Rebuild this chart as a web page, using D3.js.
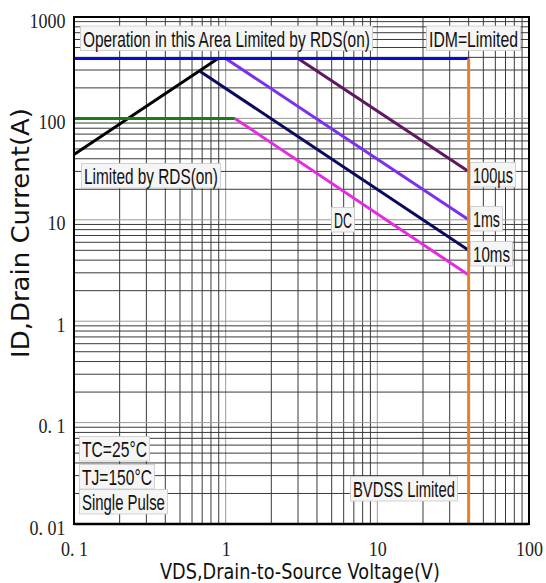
<!DOCTYPE html>
<html><head><meta charset="utf-8">
<script src="https://cdn.jsdelivr.net/npm/d3@7"></script>
<style>html,body{margin:0;padding:0;background:#fff;} svg{display:block;}</style>
</head><body>
<script>
// ---------- data ----------
const xTickValues = [0.1, 1, 10, 100];
const xTickLabels = ["0. 1", "1", "10", "100"];
const yTickValues = [0.01, 0.1, 1, 10, 100, 1000];
const yTickLabels = ["0. 01", "0. 1", "1", "10", "100", "1000"];

// [VDS (V), ID (A)]
const idmLimit   = [[0.1, 390], [40, 390]];
const bvdssLimit = [[40, 390], [40, 0.01]];
const rdsOnLimit = [[0.1, 44], [0.89, 390]];
const dcFlat     = [[0.1, 100], [1.15, 100]];
const dcSlope    = [[1.15, 100], [40, 2.85]];
const pulse10ms  = [[0.68, 290], [40, 5]];
const pulse1ms   = [[1.0, 390], [40, 10]];
const pulse100us = [[3.0, 390], [40, 30]];

const annotationTexts = ["Operation in this Area Limited by RDS(on)", "IDM=Limited",
  "Limited by RDS(on)", "100µs", "1ms", "10ms", "DC", "TC=25°C", "TJ=150°C",
  "Single Pulse", "BVDSS Limited"];

// ---------- layout ----------
const W = 546, H = 583;
const M = {left: 74, right: 529, top: 17, bottom: 524};

const seriesStyles = [
  {d: rdsOnLimit, color: "#000000"},
  {d: dcFlat,     color: "#1c7a1c"},
  {d: dcSlope,    color: "#e22ee2"},
  {d: pulse10ms,  color: "#0b0b5e"},
  {d: pulse1ms,   color: "#7b30ee"},
  {d: pulse100us, color: "#5e1860"},
  {d: idmLimit,   color: "#0a0ad8"},
  {d: bvdssLimit, color: "#e0822a"}
];

// left x, baseline y, target width (pixels)
const annotationLayout = [
  [83, 46.5, 287], [429, 46.5, 89], [84, 184, 134], [473, 183, 40],
  [473, 227, 27], [473, 262, 37], [334, 228, 18], [82, 457, 65],
  [82, 485, 70], [82, 510, 83], [353, 497, 102]
];

const svg = d3.select("body").append("svg").attr("width", W).attr("height", H);

const x = d3.scaleLog().domain([0.1, 100]).range([M.left, M.right]);
const y = d3.scaleLog().domain([0.01, 1000]).range([M.bottom, M.top]);

// squeeze a text horizontally to a target width (keeps real bbox correct)
function squeezeTo(sel, tx, ty, target) {
  const w = sel.node().getComputedTextLength();
  sel.attr("x", 0).attr("y", 0).attr("transform", `translate(${tx},${ty}) scale(${target / w},1)`);
}

// grid
function logGrid(lo, hi) {
  const out = [];
  for (let d = lo; d < hi * 0.999; d *= 10) {
    for (let k = 1; k <= 9; k++) out.push({v: k * d, major: k === 1});
  }
  out.push({v: hi, major: true});
  return out;
}
const grid = svg.append("g");
grid.selectAll("line.vx").data(logGrid(0.1, 100)).join("line")
  .attr("x1", d => x(d.v)).attr("x2", d => x(d.v))
  .attr("y1", M.top).attr("y2", M.bottom)
  .attr("stroke", d => d.major ? "#9a9a9a" : "#3a3a3a").attr("stroke-width", 1);
grid.selectAll("line.hy").data(logGrid(0.01, 1000)).join("line")
  .attr("y1", d => y(d.v)).attr("y2", d => y(d.v))
  .attr("x1", M.left).attr("x2", M.right)
  .attr("stroke", d => d.major ? "#9a9a9a" : "#3a3a3a").attr("stroke-width", 1);

// series
const line = d3.line().x(d => x(d[0])).y(d => y(d[1]));
svg.append("g").selectAll("path").data(seriesStyles).join("path")
  .attr("d", s => line(s.d)).attr("fill", "none")
  .attr("stroke", s => s.color).attr("stroke-width", 3);

// annotations
const ann = svg.append("g").selectAll("g").data(annotationTexts.map((t, i) => ({t, l: annotationLayout[i]})))
  .join("g");
ann.append("rect")
  .attr("x", d => d.l[0] - 2.5).attr("y", d => d.l[1] - 20.5)
  .attr("width", d => d.l[2] + 5).attr("height", 24.5)
  .attr("fill", "#f5f5f5").attr("stroke", "#c8c8c8").attr("stroke-width", 0.8);
ann.append("text")
  .attr("font-family", "'Liberation Sans', Arial, sans-serif").attr("font-size", 22)
  .attr("fill", "#111").text(d => d.t)
  .each(function(d) { squeezeTo(d3.select(this), d.l[0], d.l[1], d.l[2]); });

// frame
svg.append("rect").attr("x", M.left).attr("y", M.top)
  .attr("width", M.right - M.left).attr("height", M.bottom - M.top)
  .attr("fill", "none").attr("stroke", "#000").attr("stroke-width", 2);
svg.append("line").attr("x1", M.left).attr("x2", M.right).attr("y1", M.bottom).attr("y2", M.bottom)
  .attr("stroke", "#000").attr("stroke-width", 2.6);

// axes via d3 axis
const xAxis = d3.axisBottom(x).tickValues(xTickValues)
  .tickFormat((d, i) => xTickLabels[i]).tickSize(0).tickPadding(0);
const gx = svg.append("g").attr("transform", `translate(0,${M.bottom})`).call(xAxis);
gx.select(".domain").remove();
gx.selectAll("text").attr("dy", null)
  .attr("font-family", "'Liberation Serif', 'Times New Roman', serif").attr("font-size", 20).attr("fill", "#222")
  .each(function() {
    const s = d3.select(this);
    s.attr("x", 0).attr("y", 0).attr("transform", "translate(0,31.5) scale(0.9,1)");
  });

const yAxis = d3.axisLeft(y).tickValues(yTickValues)
  .tickFormat((d, i) => yTickLabels[i]).tickSize(0).tickPadding(0);
const gy = svg.append("g").attr("transform", `translate(${M.left},0)`).call(yAxis);
gy.select(".domain").remove();
gy.selectAll("text").attr("dy", null)
  .attr("font-family", "'Liberation Serif', 'Times New Roman', serif").attr("font-size", 20).attr("fill", "#222")
  .each(function() {
    d3.select(this).attr("x", 0).attr("y", 0).attr("transform", "translate(-8.5,10) scale(0.9,1)");
  });

// axis titles
const xt = svg.append("text").attr("text-anchor", "start")
  .attr("font-family", "'DejaVu Sans', Verdana, sans-serif").attr("font-size", 21).attr("fill", "#111")
  .text("VDS,Drain-to-Source Voltage(V)");
squeezeTo(xt, 160, 579, 280);

const yt = svg.append("text").attr("text-anchor", "middle")
  .attr("font-family", "'DejaVu Sans', Verdana, sans-serif").attr("font-size", 24).attr("fill", "#111")
  .text("ID,Drain Current(A)");
{
  const w = yt.node().getComputedTextLength();
  yt.attr("transform", `translate(28.5,233) rotate(-90) scale(${250 / w},1)`);
}
</script>
</body></html>
